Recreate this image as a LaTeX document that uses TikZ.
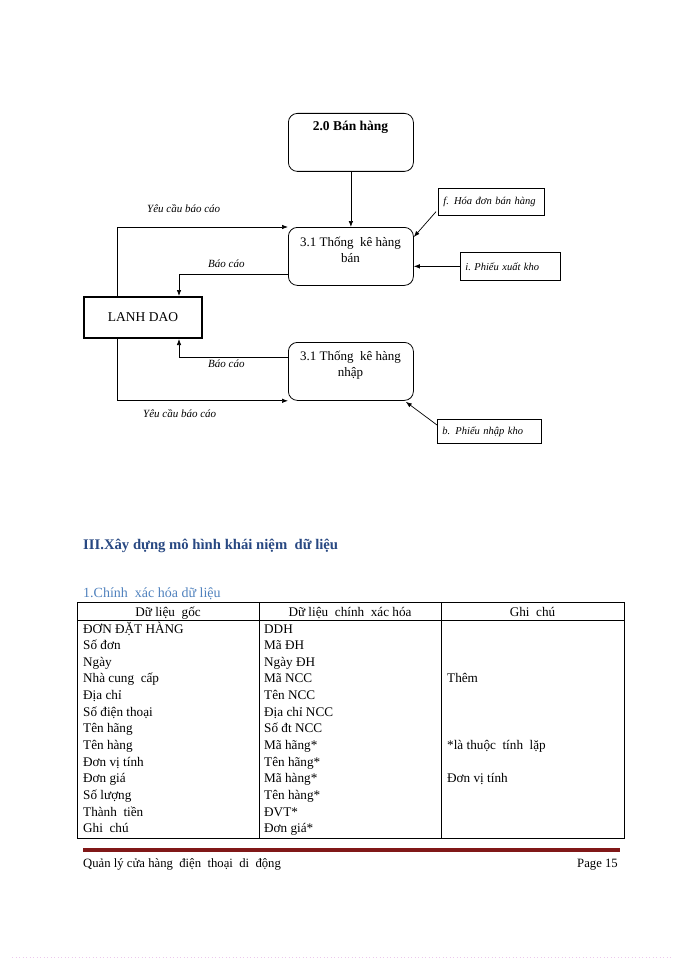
\documentclass[tikz,border=0pt]{standalone}
\usepackage{fontspec}
\setmainfont{Liberation Serif}
\usetikzlibrary{arrows.meta,calc}
\definecolor{headblue}{RGB}{40,72,130}
\definecolor{subblue}{RGB}{79,129,189}
\definecolor{footred}{RGB}{128,24,24}
\definecolor{dotpink}{RGB}{236,200,236}
\begin{document}
\begin{tikzpicture}[x=1pt,y=-1pt,
  proc/.style={draw, rounded corners=9pt, line width=0.8pt, minimum width=125pt, minimum height=58pt, anchor=north west, inner sep=0},
  ptxt/.style={font=\fontsize{13}{16}\selectfont, align=center, inner sep=0},
  ext/.style={draw, line width=2pt, minimum width=118pt, minimum height=41pt, anchor=north west, inner sep=0, font=\fontsize{13.5}{16}\selectfont},
  doc/.style={draw, line width=0.7pt, anchor=north west, inner sep=0, inner xsep=5pt, align=left, font=\fontsize{10.5}{12}\selectfont\itshape},
  flow/.style={-{Latex[length=6pt,width=4.5pt]}, line width=0.7pt},
  lbl/.style={font=\fontsize{11}{13}\selectfont\itshape, inner sep=0, anchor=base west},
  cell/.style={font=\fontsize{13.2}{16}\selectfont, inner sep=0, anchor=base west},
  hcell/.style={font=\fontsize{13.2}{16}\selectfont, inner sep=0, anchor=base},
  tline/.style={line width=0.6pt},
]
\useasboundingbox (0,0) rectangle (700,960);

% --- diagram ---
\node[proc] (bh) at (288,113) {};
\node[font=\fontsize{13.5}{16}\selectfont\bfseries, inner sep=0, anchor=base] (bht) at (350.5,130.5) {2.0 Bán hàng};

\node[proc] (tk1) at (288,227) {};
\node[ptxt] (tk1t) at (350.5,250) {3.1 Thống\ \ kê hàng\\bán};

\node[proc] (tk2) at (288,342) {};
\node[ptxt] (tk2t) at (350.5,365) {3.1 Thống\ \ kê hàng\\nhập};

\node[ext] (ld) at (83,296) {LANH DAO};

\node[doc, minimum height=27pt, text width=96pt] (fb) at (438,188) {f. Hóa đơn bán hàng};
\node[doc, minimum height=28pt, text width=90pt] (ib) at (460,252) {i.\ Phiếu\ xuất kho};
\node[doc, minimum height=24pt, text width=94pt] (bb) at (437,419) {b. Phiếu nhập kho};

\draw[flow] (bh.south) -- (tk1.north);
\draw[flow] ($(ld.north west)+(34,0)$) |- (tk1.north west);
\draw[flow] ($(tk1.south west)+(0,-11)$) -| ($(ld.north east)+(-24,0)$);
\draw[flow] ($(tk2.north west)+(0,15)$) -| ($(ld.south east)+(-24,0)$);
\draw[flow] ($(ld.south west)+(34,0)$) |- (tk2.south west);
\draw[flow] ($(fb.south west)+(-2,-4)$) -- ($(tk1.north east)+(0,10)$);
\draw[flow] (ib.west) -- (ib.west -| tk1.east);
\draw[flow] ($(bb.north west)+(0,6)$) -- ($(tk2.south east)+(-8,1)$);

\node[lbl] (l1) at (147,212) {Yêu cầu báo cáo};
\node[lbl] (l2) at (208,267) {Báo cáo};
\node[lbl] (l3) at (208,367) {Báo cáo};
\node[lbl] (l4) at (143,417) {Yêu cầu báo cáo};

% --- headings ---
\node[anchor=base west, inner sep=0, text=headblue, font=\fontsize{14.7}{17}\selectfont\bfseries] (h1) at (83,549) {III.Xây dựng mô hình khái niệm\ \ dữ liệu};
\node[anchor=base west, inner sep=0, text=subblue, font=\fontsize{14}{17}\selectfont] (h2) at (83,597.5) {1.Chính\ \ xác hóa dữ liệu};

% --- table ---
\draw[line width=1pt] (77,602) rectangle (624,838);
\draw[tline] (77,620) -- (624,620);
\draw[tline] (259,602) -- (259,838);
\draw[tline] (441,602) -- (441,838);

\node[hcell] (th1) at (168,616.5) {Dữ liệu\ \ gốc};
\node[hcell] (th2) at (350,616.5) {Dữ liệu\ \ chính\ \ xác hóa};
\node[hcell] (th3) at (532.5,616.5) {Ghi\ \ chú};

\foreach \t [count=\i] in {ĐƠN ĐẶT HÀNG, Số đơn, Ngày, Nhà cung\ \ cấp, Địa chỉ, Số điện thoại, Tên hãng, Tên hàng, Đơn vị tính, Đơn giá, Số lượng, Thành\ \ tiền, Ghi\ \ chú}
  \node[cell] (a\i) at (83,{633+(\i-1)*16.65}) {\t};

\foreach \t [count=\i] in {DDH, Mã ĐH, Ngày ĐH, Mã NCC, Tên NCC, Địa chỉ NCC, Số đt NCC, Mã hãng*, Tên hãng*, Mã hàng*, Tên hàng*, ĐVT*, Đơn giá*}
  \node[cell] (b\i) at (264,{633+(\i-1)*16.65}) {\t};

\node[cell] (c4) at (447,{633+3*16.65}) {Thêm};
\node[cell] (c8) at (447,{633+7*16.65}) {*là thuộc\ \ tính\ \ lặp};
\node[cell] (c10) at (447,{633+9*16.65}) {Đơn vị tính};

% --- footer ---
\draw[footred, line width=3.5pt] (83,850) -- (620,850);
\node[anchor=base west, inner sep=0, font=\fontsize{12.7}{16}\selectfont] (ft) at (83,867) {Quản lý cửa hàng\ \ điện\ \ thoại\ \ di\ \ động};
\node[anchor=base east, inner sep=0, font=\fontsize{12.7}{16}\selectfont] (pg) at (618,867) {Page 15};

\draw[dotpink, line width=0.8pt, dash pattern=on 0.8pt off 2.7pt] (12,957) -- (673,957);
\end{tikzpicture}
\end{document}
